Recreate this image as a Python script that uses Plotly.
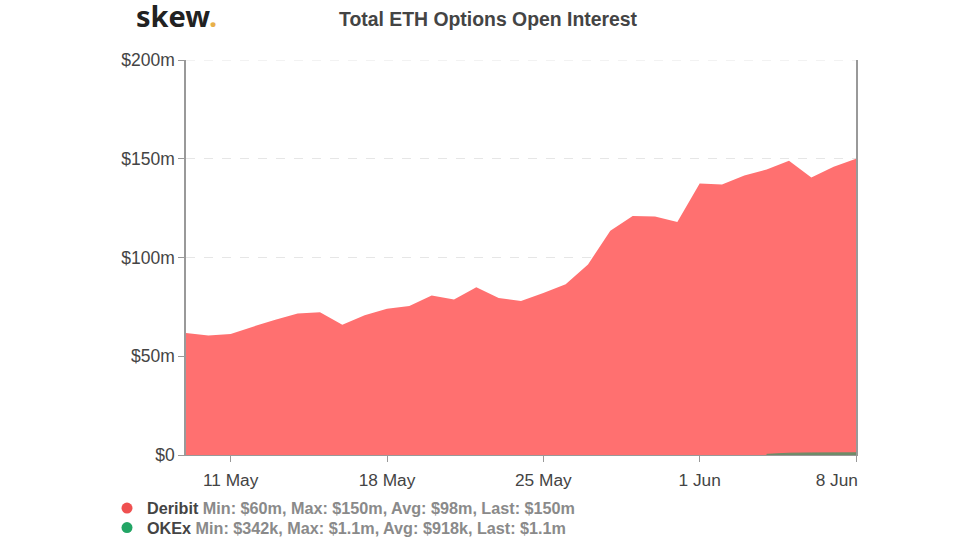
import plotly.graph_objects as go

dates = ["2020-05-%02d" % d for d in range(9, 32)] + ["2020-06-%02d" % d for d in range(1, 9)]
deribit = [61.8, 60.5, 61.3, 65, 68.5, 71.6, 72.3, 66, 70.7, 74, 75.5, 80.7, 78.7, 85, 79.5, 78,
           82, 86.5, 96.5, 113.5, 121, 120.7, 118, 137.5, 137, 141.5, 144.5, 149, 140.5, 146, 150]
okex_dates = ["2020-06-04", "2020-06-05", "2020-06-06", "2020-06-07", "2020-06-08"]
okex = [0.342, 0.9, 1.05, 1.1, 1.1]
x_ticks = ["2020-05-11", "2020-05-18", "2020-05-25", "2020-06-01", "2020-06-08"]
x_labels = ["11 May", "18 May", "25 May", "1 Jun", "8 Jun" + "\u00a0" * 8]
y_ticks = [0, 50, 100, 150, 200]
y_labels = ["$0", "$50m", "$100m", "$150m", "$200m"]
legend_deribit = "<b style='color:#444'>Deribit</b> <b>Min: $60m, Max: $150m, Avg: $98m, Last: $150m</b>"
legend_okex = "<b style='color:#444'>OKEx</b> <b>Min: $342k, Max: $1.1m, Avg: $918k, Last: $1.1m</b>"

W, H = 974, 543
L, R, T, B = 186, 118, 60, 88
plot_w, plot_h = W - L - R, H - T - B

def px(x):
    return (x - L) / plot_w

def py(y):
    return 1 - (y - T) / plot_h

def legend_at(y):
    return dict(xref="container", yref="container", x=107 / W, xanchor="left",
                y=1 - y / H, yanchor="top", bgcolor="rgba(0,0,0,0)",
                font=dict(size=16.2, color="#8a8a8a"), tracegroupgap=0, itemwidth=30)

fig = go.Figure()
fig.add_trace(go.Scatter(x=dates, y=deribit, mode="none", fill="tozeroy",
                         fillcolor="rgb(255,112,112)", showlegend=False, hoverinfo="skip"))
fig.add_trace(go.Scatter(x=okex_dates, y=okex, mode="lines", fill="tozeroy",
                         line=dict(color="rgb(110,140,105)", width=1),
                         fillcolor="rgb(110,140,105)", showlegend=False, hoverinfo="skip"))
fig.add_trace(go.Scatter(x=[None], y=[None], mode="markers", name=legend_deribit,
                         marker=dict(color="#EF5050", size=11), legend="legend"))
fig.add_trace(go.Scatter(x=[None], y=[None], mode="markers", name=legend_okex,
                         marker=dict(color="#22A565", size=11), legend="legend2"))

fig.update_layout(
    width=W, height=H, autosize=False,
    margin=dict(l=L, r=R, t=T, b=B, autoexpand=False),
    paper_bgcolor="white", plot_bgcolor="white",
    font=dict(family="Liberation Sans, Arial, sans-serif", color="#444"),
    showlegend=True,
    legend=legend_at(491),
    legend2=legend_at(510.5),
    xaxis=dict(type="date", range=["2020-05-09", "2020-06-08"], tickmode="array",
               tickvals=x_ticks, ticktext=x_labels, ticks="outside", ticklen=6, tickcolor="#999",
               tickfont=dict(size=17.3, color="#444"), ticklabelstandoff=3, showgrid=False,
               showline=True, linecolor="#999", linewidth=1, zeroline=False),
    yaxis=dict(range=[0, 200], tickmode="array", tickvals=y_ticks, ticktext=y_labels,
               ticks="outside", ticklen=6, tickcolor="#999", tickfont=dict(size=17.5, color="#444"),
               showgrid=True, gridcolor="#e6e6e6", griddash="dash", gridwidth=1,
               showline=True, linecolor="#999", linewidth=1.5, mirror=True, zeroline=False),
    shapes=[dict(type="line", xref="paper", x0=0, x1=1, yref="y", y0=200, y1=200,
                 line=dict(color="#e6e6e6", width=1, dash="dash"))],
    annotations=[
        dict(text="<b>Total ETH Options Open Interest</b>", xref="paper", yref="paper",
             x=px(488), y=py(19), xanchor="center", yanchor="middle", showarrow=False,
             font=dict(size=19.4, color="#444")),
        dict(text="<b>skew<span style='color:#E8B04A'>.</span></b>", xref="paper", yref="paper",
             x=px(134), y=py(15), xanchor="left", yanchor="middle", showarrow=False,
             font=dict(family="Noto Sans", size=29, color="#222")),
    ],
)
fig.write_html("out.html", config={"displayModeBar": False},
               post_script="document.body.style.margin='0';")
